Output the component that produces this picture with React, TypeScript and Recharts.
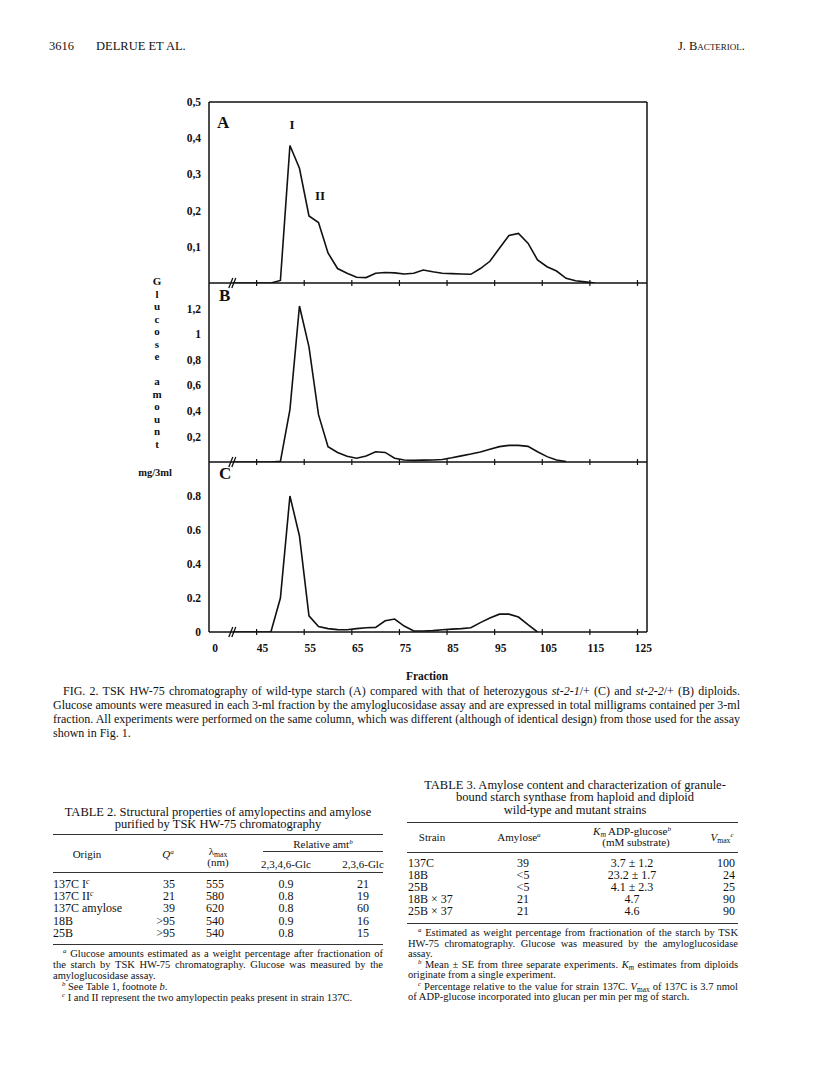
import React, { useLayoutEffect, useRef, useState } from 'react';
import { LineChart, Line, XAxis, YAxis, ReferenceLine, ReferenceDot } from 'recharts';

const SERIF = '"Liberation Serif", "Times New Roman", serif';

// ---- data ----
const fractions = [40, 42, 44, 46, 48, 50, 52, 54, 56, 58, 60, 62, 64, 66, 68, 70, 72, 74, 76, 78, 80, 82, 84, 86, 88, 90, 92, 94, 96, 98, 100, 102, 104, 106, 108, 110, 112, 114, 116];
const panelA = [0, 0, 0, 0, 0, 0.007, 0.38, 0.317, 0.185, 0.167, 0.083, 0.04, 0.027, 0.016, 0.015, 0.027, 0.029, 0.028, 0.025, 0.027, 0.036, 0.031, 0.027, 0.026, 0.025, 0.024, 0.04, 0.06, 0.096, 0.131, 0.137, 0.11, 0.064, 0.045, 0.033, 0.013, 0.006, 0.003, 0];
const panelB = [0, 0, 0, 0, 0, 0.005, 0.41, 1.22, 0.9, 0.37, 0.12, 0.075, 0.045, 0.03, 0.047, 0.08, 0.075, 0.03, 0.016, 0.013, 0.015, 0.016, 0.02, 0.033, 0.048, 0.062, 0.078, 0.1, 0.12, 0.13, 0.13, 0.122, 0.08, 0.042, 0.015, 0.004, null, null, null];
const panelC = [0, 0, 0, 0, 0, 0.2, 0.8, 0.565, 0.095, 0.032, 0.02, 0.014, 0.013, 0.02, 0.025, 0.027, 0.066, 0.076, 0.035, 0.006, 0.006, 0.008, 0.013, 0.017, 0.02, 0.025, 0.055, 0.082, 0.105, 0.105, 0.088, 0.043, 0, null, null, null, null, null, null];

const xTicks = [35, 45, 55, 65, 75, 85, 95, 105, 115, 125];
const xTickLabels = ['0', '45', '55', '65', '75', '85', '95', '105', '115', '125'];
const yTicksA = [0.1, 0.2, 0.3, 0.4, 0.5];
const yTicksB = [0.2, 0.4, 0.6, 0.8, 1, 1.2];
const yTicksC = [0, 0.2, 0.4, 0.6, 0.8];
const yLetters = ['G', 'l', 'u', 'c', 'o', 's', 'e', '', 'a', 'm', 'o', 'u', 'n', 't'];

const t2Origins = ['137C I', '137C II', '137C amylose', '18B', '25B'];
const t2Sup = ['c', 'c', '', '', ''];
const t2Q = ['35', '21', '39', '>95', '>95'];
const t2Lambda = ['555', '580', '620', '540', '540'];
const t2Glc2346 = ['0.9', '0.8', '0.8', '0.9', '0.8'];
const t2Glc236 = ['21', '19', '60', '16', '15'];

const t3Strains = ['137C', '18B', '25B', '18B × 37', '25B × 37'];
const t3Amylose = ['39', '<5', '<5', '21', '21'];
const t3Km = ['3.7 ± 1.2', '23.2 ± 1.7', '4.1 ± 2.3', '4.7', '4.6'];
const t3Vmax = ['100', '24', '25', '90', '90'];

// ---- helpers ----
type TP = { x: number; y: number; size?: number; bold?: boolean; italic?: boolean; align?: 'left' | 'center' | 'right'; children: React.ReactNode; style?: React.CSSProperties };
const Txt = ({ x, y, size = 12, bold, italic, align = 'left', children, style }: TP) => (
  <div style={{
    position: 'absolute', left: x, top: y, lineHeight: 0, fontSize: size, fontFamily: SERIF,
    fontWeight: bold ? 700 : 400, fontStyle: italic ? 'italic' : 'normal', whiteSpace: 'nowrap', color: '#111',
    transform: align === 'center' ? 'translateX(-50%)' : align === 'right' ? 'translateX(-100%)' : undefined,
    ...style,
  }}>{children}</div>
);

function JLine({ x, y, w, size = 12, children }: { x: number; y: number; w: number; size?: number; children: React.ReactNode }) {
  const ref = useRef<HTMLSpanElement>(null);
  const cur = useRef(0);
  const [ws, setWs] = useState(0);
  useLayoutEffect(() => {
    const el = ref.current;
    if (!el) return;
    const text = el.textContent || '';
    const spaces = (text.match(/ /g) || []).length;
    const natural = el.getBoundingClientRect().width - cur.current * spaces;
    if (spaces) {
      const v = (w - natural) / spaces;
      cur.current = v;
      setWs(v);
    }
  }, []);
  return (
    <div style={{ position: 'absolute', left: x, top: y, lineHeight: 0, fontSize: size, fontFamily: SERIF, whiteSpace: 'nowrap', color: '#111' }}>
      <span ref={ref} style={{ wordSpacing: ws }}>{children}</span>
    </div>
  );
}

const Sup = ({ children }: { children: React.ReactNode }) => (
  <span style={{ fontSize: '0.65em', fontStyle: 'italic', lineHeight: 0, position: 'relative', top: '-0.55em', verticalAlign: 'baseline' }}>{children}</span>
);
const Sub = ({ children }: { children: React.ReactNode }) => (
  <span style={{ fontSize: '0.7em', lineHeight: 0, position: 'relative', top: '0.3em', verticalAlign: 'baseline' }}>{children}</span>
);
const Rule = ({ x1, x2, y }: { x1: number; x2: number; y: number }) => (
  <div style={{ position: 'absolute', left: x1, top: y, width: x2 - x1, height: 1, background: '#333' }} />
);

const XTick = (props: any) => {
  const { x, y, payload, showLabels } = props;
  const idx = xTicks.indexOf(payload.value);
  return (
    <g>
      {payload.value !== 35 && <line x1={x} x2={x} y1={y - 3} y2={y + 3} stroke="#111" strokeWidth={1.2} />}
      {showLabels && (
        <text x={x + 6} y={y + 20} textAnchor="middle" fontFamily={SERIF} fontWeight={700} fontSize={11.5} fill="#111">
          {xTickLabels[idx]}
        </text>
      )}
    </g>
  );
};

const BreakMark = (props: any) => {
  const { cx, cy } = props;
  return (
    <g stroke="#111" strokeWidth={1.3}>
      <line x1={cx - 4} y1={cy + 5} x2={cx} y2={cy - 5} />
      <line x1={cx - 1} y1={cy + 5} x2={cx + 3} y2={cy - 5} />
    </g>
  );
};

type PanelProps = { top: number; plotH: number; values: (number | null)[]; yDomain: [number, number]; yTicks: number[]; comma: boolean; showLabels: boolean; topBorder?: number };
function Panel({ top, plotH, values, yDomain, yTicks, comma, showLabels, topBorder }: PanelProps) {
  const data = fractions.map((f, i) => ({ f, v: values[i] }));
  const xH = showLabels ? 40 : 8;
  const mb = 4;
  const h = 10 + plotH + xH + mb;
  const fmt = (v: number) => (comma ? String(v).replace('.', ',') : String(v));
  return (
    <div style={{ position: 'absolute', left: 0, top: top - 10 }}>
      <LineChart width={657} height={h} data={data} margin={{ top: 10, right: 10, bottom: mb, left: 0 }}>
        <XAxis dataKey="f" type="number" domain={[35, 127]} ticks={xTicks} allowDataOverflow height={xH}
          tickSize={0} tickMargin={0} tickLine={false} interval={0}
          axisLine={{ stroke: '#111', strokeWidth: 1.5 }} tick={<XTick showLabels={showLabels} />} />
        <YAxis type="number" domain={yDomain} ticks={yTicks} width={209} allowDataOverflow tickLine={false} interval={0}
          tickFormatter={fmt} axisLine={{ stroke: '#111', strokeWidth: 1.5 }}
          tick={{ fill: '#111', fontSize: 11.5, fontWeight: 700, fontFamily: SERIF }} />
        <ReferenceLine x={127} stroke="#111" strokeWidth={1.5} />
        {topBorder !== undefined && <ReferenceLine y={topBorder} stroke="#111" strokeWidth={1.5} />}
        <ReferenceDot x={40} y={0} r={0} ifOverflow="visible" shape={<BreakMark />} />
        <Line type="linear" dataKey="v" stroke="#111" strokeWidth={1.6} dot={false} isAnimationActive={false} connectNulls={false} />
      </LineChart>
    </div>
  );
}

export default function App() {
  return (
    <div style={{ position: 'absolute', left: 0, top: 0, width: 816, height: 1081, background: '#fff', overflow: 'hidden', fontFamily: SERIF }}>
      {/* running head */}
      <Txt x={49} y={46} size={12.5}>3616</Txt>
      <Txt x={96} y={46} size={12.5}>DELRUE ET AL.</Txt>
      <Txt x={745} y={46} size={12.5} align="right" style={{ fontVariant: 'small-caps' }}>J. Bacteriol.</Txt>

      {/* chart panels */}
      <Panel top={102} plotH={181} values={panelA} yDomain={[0, 0.5]} yTicks={yTicksA} comma showLabels={false} topBorder={0.5} />
      <Panel top={283} plotH={179} values={panelB} yDomain={[0, 1.4]} yTicks={yTicksB} comma showLabels={false} />
      <Panel top={462} plotH={170} values={panelC} yDomain={[0, 1]} yTicks={yTicksC} comma={false} showLabels />

      {/* panel annotations */}
      <Txt x={217} y={123} size={17} bold>A</Txt>
      <Txt x={292} y={125} size={13} bold align="center">I</Txt>
      <Txt x={320} y={196} size={13} bold align="center">II</Txt>
      <Txt x={219} y={296} size={17} bold>B</Txt>
      <Txt x={219} y={474} size={17} bold>C</Txt>

      {/* y axis title */}
      {yLetters.map((ch, i) => (
        <Txt key={i} x={157} y={281 + i * 12.5} size={11} bold align="center">{ch}</Txt>
      ))}
      <Txt x={172} y={473} size={10.5} bold align="right">mg/3ml</Txt>
      <Txt x={427} y={676} size={11.5} bold align="center">Fraction</Txt>

      {/* caption */}
      <JLine x={63} y={691} w={677} size={12}>FIG. 2. TSK HW-75 chromatography of wild-type starch (A) compared with that of heterozygous <i>st-2-1</i>/+ (C) and <i>st-2-2</i>/+ (B) diploids.</JLine>
      <JLine x={53} y={705} w={687} size={12}>Glucose amounts were measured in each 3-ml fraction by the amyloglucosidase assay and are expressed in total milligrams contained per 3-ml</JLine>
      <JLine x={53} y={719} w={687} size={12}>fraction. All experiments were performed on the same column, which was different (although of identical design) from those used for the assay</JLine>
      <Txt x={53} y={733} size={12}>shown in Fig. 1.</Txt>

      {/* Table 2 */}
      <Txt x={218} y={812} size={12.5} align="center">TABLE 2. Structural properties of amylopectins and amylose</Txt>
      <Txt x={218} y={824} size={12.5} align="center">purified by TSK HW-75 chromatography</Txt>
      <Rule x1={53} x2={383} y={834} />
      <Txt x={87} y={854} size={11} align="center">Origin</Txt>
      <Txt x={168} y={854} size={11} align="center"><i>Q</i><Sup>a</Sup></Txt>
      <Txt x={218} y={851} size={11} align="center">λ<Sub>max</Sub></Txt>
      <Txt x={218} y={862} size={11} align="center">(nm)</Txt>
      <Txt x={323} y={844} size={11} align="center">Relative amt<Sup>b</Sup></Txt>
      <Rule x1={263} x2={383} y={851} />
      <Txt x={286} y={864} size={11} align="center">2,3,4,6-Glc</Txt>
      <Txt x={363} y={864} size={11} align="center">2,3,6-Glc</Txt>
      <Rule x1={53} x2={383} y={872} />
      {t2Origins.map((o, i) => {
        const y = 884 + i * 12.2;
        return (
          <React.Fragment key={o}>
            <Txt x={53} y={y} size={12}>{o}{t2Sup[i] && <Sup>{t2Sup[i]}</Sup>}</Txt>
            <Txt x={175} y={y} size={12} align="right">{t2Q[i]}</Txt>
            <Txt x={215} y={y} size={12} align="center">{t2Lambda[i]}</Txt>
            <Txt x={286} y={y} size={12} align="center">{t2Glc2346[i]}</Txt>
            <Txt x={363} y={y} size={12} align="center">{t2Glc236[i]}</Txt>
          </React.Fragment>
        );
      })}
      <Rule x1={53} x2={383} y={944} />
      <JLine x={63} y={954} w={320} size={10.5}><Sup>a</Sup> Glucose amounts estimated as a weight percentage after fractionation of</JLine>
      <JLine x={53} y={965} w={330} size={10.5}>the starch by TSK HW-75 chromatography. Glucose was measured by the</JLine>
      <Txt x={53} y={976} size={10.5}>amyloglucosidase assay.</Txt>
      <Txt x={62} y={987} size={10.5}><Sup>b</Sup> See Table 1, footnote <i>b</i>.</Txt>
      <Txt x={62} y={998} size={10.5}><Sup>c</Sup> I and II represent the two amylopectin peaks present in strain 137C.</Txt>

      {/* Table 3 */}
      <Txt x={575} y={785} size={12.5} align="center">TABLE 3. Amylose content and characterization of granule-</Txt>
      <Txt x={575} y={797} size={12.5} align="center">bound starch synthase from haploid and diploid</Txt>
      <Txt x={575} y={810} size={12.5} align="center">wild-type and mutant strains</Txt>
      <Rule x1={407} x2={738} y={822} />
      <Txt x={432} y={837} size={11} align="center">Strain</Txt>
      <Txt x={519} y={837} size={11} align="center">Amylose<Sup>a</Sup></Txt>
      <Txt x={632} y={831} size={11} align="center"><i>K</i><Sub><i>m</i></Sub> ADP-glucose<Sup>b</Sup></Txt>
      <Txt x={636} y={842} size={11} align="center">(mM substrate)</Txt>
      <Txt x={722} y={837} size={11} align="center"><i>V</i><Sub>max</Sub><Sup>c</Sup></Txt>
      <Rule x1={407} x2={738} y={852} />
      {t3Strains.map((s, i) => {
        const y = 863 + i * 12.1;
        return (
          <React.Fragment key={s}>
            <Txt x={408} y={y} size={12}>{s}</Txt>
            <Txt x={523} y={y} size={12} align="center">{t3Amylose[i]}</Txt>
            <Txt x={632} y={y} size={12} align="center">{t3Km[i]}</Txt>
            <Txt x={735} y={y} size={12} align="right">{t3Vmax[i]}</Txt>
          </React.Fragment>
        );
      })}
      <Rule x1={407} x2={738} y={923} />
      <JLine x={418} y={933} w={320} size={10.5}><Sup>a</Sup> Estimated as weight percentage from fractionation of the starch by TSK</JLine>
      <JLine x={408} y={944} w={330} size={10.5}>HW-75 chromatography. Glucose was measured by the amyloglucosidase</JLine>
      <Txt x={408} y={954} size={10.5}>assay.</Txt>
      <JLine x={418} y={965} w={320} size={10.5}><Sup>b</Sup> Mean ± SE from three separate experiments. <i>K</i><Sub><i>m</i></Sub> estimates from diploids</JLine>
      <Txt x={408} y={975} size={10.5}>originate from a single experiment.</Txt>
      <JLine x={418} y={987} w={320} size={10.5}><Sup>c</Sup> Percentage relative to the value for strain 137C. <i>V</i><Sub>max</Sub> of 137C is 3.7 nmol</JLine>
      <Txt x={408} y={997} size={10.5}>of ADP-glucose incorporated into glucan per min per mg of starch.</Txt>
    </div>
  );
}
